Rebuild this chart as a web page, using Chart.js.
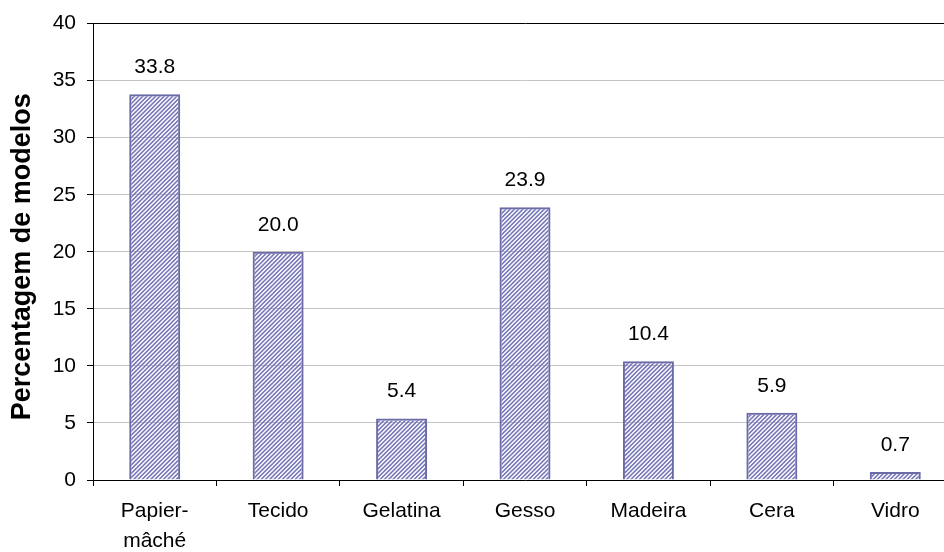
<!DOCTYPE html>
<html>
<head>
<meta charset="utf-8">
<script src="https://cdn.jsdelivr.net/npm/chart.js@4/dist/chart.umd.min.js"></script>
<style>
  html, body { margin: 0; padding: 0; background: #fff; overflow: hidden; }
  #wrap { width: 958px; height: 552px; }
</style>
</head>
<body>
<div id="wrap"><canvas id="c"></canvas></div>
<script>
// Material categories and share of models (%)
const categories = [["Papier-", "mâché"], "Tecido", "Gelatina", "Gesso", "Madeira", "Cera", "Vidro"];
const percentages = [33.8, 20.0, 5.4, 23.9, 10.4, 5.9, 0.7];
const yTicks = [0, 5, 10, 15, 20, 25, 30, 35, 40];
const yTitle = "Percentagem de modelos";

const FONT = "'Liberation Sans', Arial, sans-serif";

// Upward diagonal hatch (4 stripes per 17px tile), transparent between stripes
function makeHatch() {
  const n = 17, stripes = 4, p = n / stripes, w = p * 0.52;
  const c = document.createElement('canvas');
  c.width = n; c.height = n;
  const g = c.getContext('2d');
  g.fillStyle = 'rgb(118,118,184)';
  // stripe s covers x + y in [s*p + n, s*p + n + w]; tile spans x + y in [0, 2n]
  for (let s = -stripes - 2; s <= stripes + 1; s++) {
    const x0 = s * p;
    g.beginPath();
    g.moveTo(x0, n);
    g.lineTo(x0 + w, n);
    g.lineTo(x0 + w + n, 0);
    g.lineTo(x0 + n, 0);
    g.closePath();
    g.fill();
  }
  return c;
}

const valueLabels = {
  id: 'valueLabels',
  afterDatasetsDraw(chart) {
    const ctx = chart.ctx;
    const meta = chart.getDatasetMeta(0);
    ctx.save();
    ctx.font = "21px " + FONT;
    ctx.fillStyle = '#000';
    ctx.textAlign = 'center';
    ctx.textBaseline = 'alphabetic';
    meta.data.forEach((bar, i) => {
      ctx.fillText(percentages[i].toFixed(1), bar.x, bar.y - 21);
    });
    ctx.restore();
  }
};

// Rotated y-axis title, centred slightly below the middle of the plot
const axisTitle = {
  id: 'axisTitle',
  afterDraw(chart) {
    const ctx = chart.ctx;
    const a = chart.chartArea;
    ctx.save();
    ctx.translate(23, (a.top + a.bottom) / 2 + 5);
    ctx.rotate(-Math.PI / 2);
    ctx.font = "bold 27px " + FONT;
    ctx.fillStyle = '#000';
    ctx.textAlign = 'center';
    ctx.textBaseline = 'middle';
    ctx.fillText(yTitle, 0, 0);
    ctx.restore();
  }
};

const ctx = document.getElementById('c').getContext('2d');
const hatch = ctx.createPattern(makeHatch(), 'repeat');

new Chart(ctx, {
  type: 'bar',
  data: {
    labels: categories,
    datasets: [{
      data: percentages,
      backgroundColor: hatch,
      borderColor: '#6a6aa6',
      borderWidth: 2,
      borderSkipped: 'bottom',
      categoryPercentage: 1.0,
      barPercentage: 0.413
    }]
  },
  options: {
    responsive: true,
    maintainAspectRatio: false,
    animation: false,
    layout: { padding: { top: 23, right: 1, left: 0, bottom: 0 } },
    plugins: { legend: { display: false }, tooltip: { enabled: false } },
    scales: {
      x: {
        offset: true,
        grid: {
          offset: true,
          drawOnChartArea: false,
          drawTicks: true,
          tickLength: 6,
          tickColor: '#000',
          color: '#000'
        },
        border: { color: '#000', width: 1 },
        ticks: {
          color: '#000',
          font: { family: FONT, size: 21, lineHeight: 1.4 },
          padding: 11,
          maxRotation: 0,
          autoSkip: false
        },
        afterFit(scale) { scale.height = 72; }
      },
      y: {
        min: 0,
        max: 40,
        afterBuildTicks(scale) { scale.ticks = yTicks.map(v => ({ value: v })); },
        grid: {
          color: (c) => (c.tick && c.tick.value === 40) ? '#000' : '#c4c4c4',
          tickColor: '#000',
          tickLength: 6,
          lineWidth: 1
        },
        border: { color: '#000', width: 1 },
        ticks: {
          color: '#000',
          font: { family: FONT, size: 21 },
          padding: 11
        },
        title: { display: false },
        afterFit(scale) { scale.width = 93; }
      }
    }
  },
  plugins: [valueLabels, axisTitle]
});
</script>
</body>
</html>
